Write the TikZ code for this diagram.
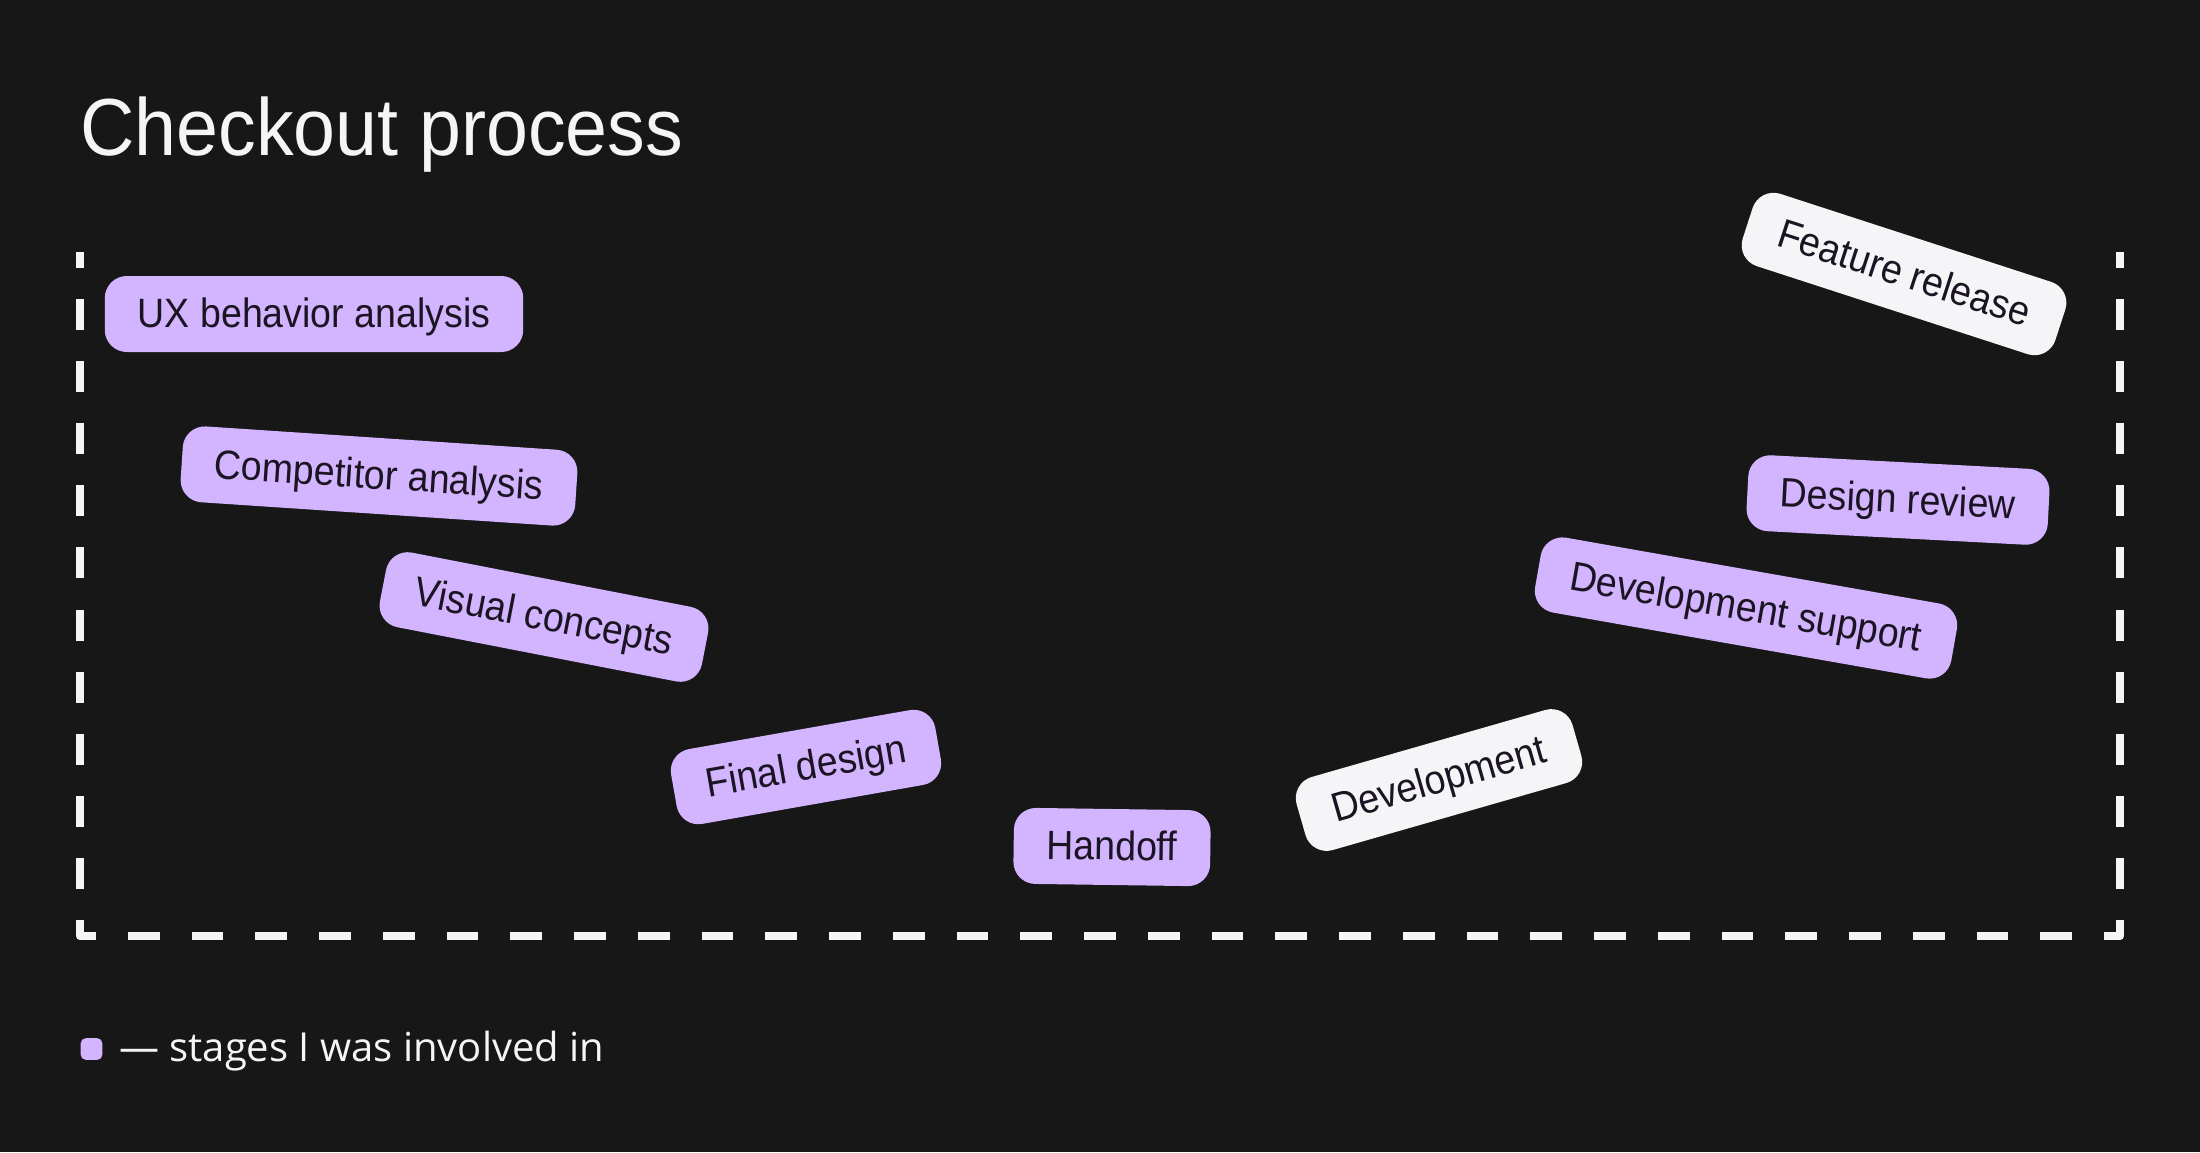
\documentclass[tikz,border=0pt]{standalone}
\usepackage{fontspec}
\setmainfont{Liberation Sans}
\newfontfamily\titlefont[FakeStretch=0.93]{Liberation Sans}
\newfontfamily\labelfont[FakeStretch=0.915]{Liberation Sans}
\newfontfamily\legendfont{Open Sans}
\definecolor{bgc}{HTML}{171717}
\definecolor{lav}{HTML}{D3B4FF}
\definecolor{offw}{HTML}{F5F5F7}
\definecolor{inkc}{HTML}{1B1523}
\begin{document}
\begin{tikzpicture}[x=1pt,y=-1pt,
  stage/.style={rounded corners=22pt, minimum height=76pt, inner xsep=33pt, inner ysep=0pt,
    text height=30pt, text depth=4pt, text=inkc,
    font=\labelfont\fontsize{41}{49}\selectfont, anchor=center},
  mine/.style={stage, fill=lav},
  other/.style={stage, fill=offw},
  border/.style={draw=offw, line width=8pt, line cap=butt}]
\fill[bgc] (0,0) rectangle (2200,1152);
\useasboundingbox (0,0) rectangle (2200,1152);

% title
\node[anchor=base west, inner sep=0pt, text=offw, font=\titlefont\fontsize{81}{96}\selectfont] (title) at (80,155) {Checkout process};

% dashed frame (open at top)
\coordinate (tl) at (80,252);
\coordinate (bl) at (80,936);
\coordinate (br) at (2120,936);
\coordinate (tr) at (2120,252);
\draw[border, dash pattern=on 31.09pt off 31.09pt, dash phase=15.545pt] (tl) -- (bl);
\draw[border, dash pattern=on 31.875pt off 31.875pt, dash phase=15.94pt] (bl) -- (br);
\draw[border, dash pattern=on 31.09pt off 31.09pt, dash phase=15.545pt] (tr) -- (br);
\draw[border, line join=round] ([yshift=16pt]bl) -- (bl) -- ([xshift=16pt]bl);
\draw[border, line join=round] ([yshift=16pt]br) -- (br) -- ([xshift=-16pt]br);

% stages
\node[mine] (ux) at (314,314) {UX behavior analysis};
\node[mine, rotate=-3.8] (comp) at (379,476) {Competitor analysis};
\node[mine, rotate=-11] (visual) at (544,617) {Visual concepts};
\node[mine, rotate=10] (final) at (806,767) {Final design};
\node[mine, rotate=-0.8] (handoff) at (1112,847) {Handoff};
\node[other, rotate=16] (dev) at (1439,780) {Development};
\node[mine, rotate=-10] (devsup) at (1746,608) {Development support};
\node[mine, rotate=-3] (review) at (1898,500) {Design review};
\node[other, rotate=-18] (release) at (1904,274) {Feature release};

% legend
\node[fill=lav, rounded corners=5pt, minimum size=21.6pt, inner sep=0pt] (key) at (91.5,1049) {};
\node[anchor=base west, inner sep=0pt, text=offw, font=\legendfont\fontsize{40}{48}\selectfont] (legend) at (119,1061) {— stages I was involved in};
\end{tikzpicture}
\end{document}
